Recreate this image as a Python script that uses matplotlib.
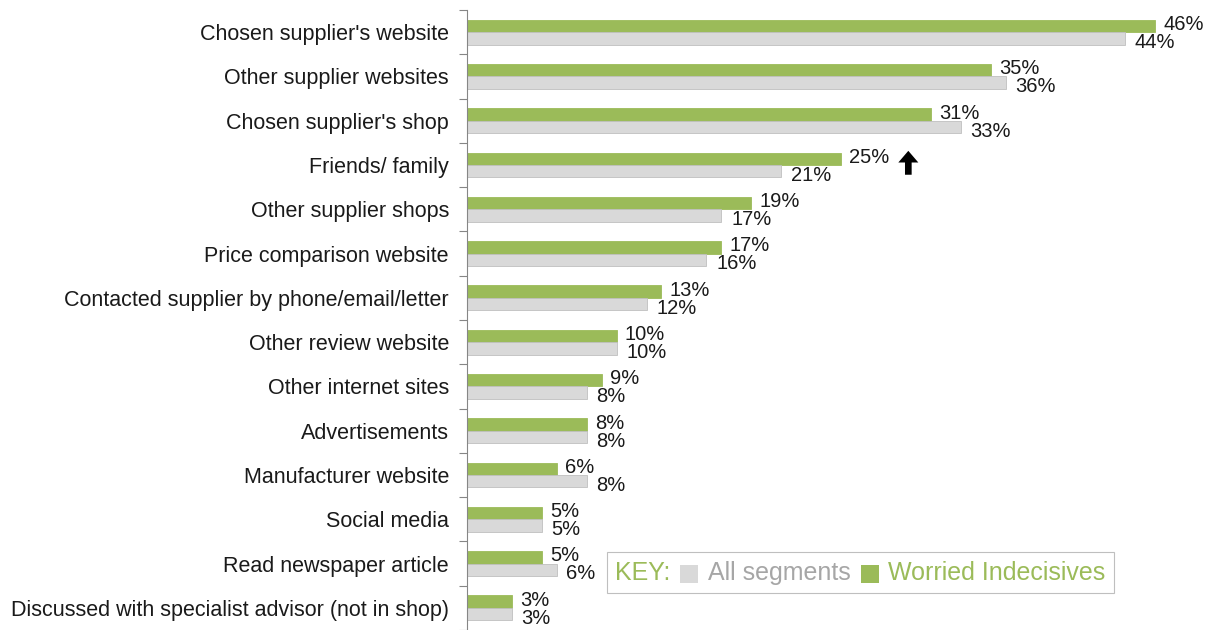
import numpy as np
import matplotlib.pyplot as plt
from matplotlib.offsetbox import TextArea, DrawingArea, HPacker, AnchoredOffsetbox
from matplotlib.patches import Rectangle

# Sources used, % of respondents
categories = [
    "Chosen supplier's website",
    "Other supplier websites",
    "Chosen supplier's shop",
    "Friends/ family",
    "Other supplier shops",
    "Price comparison website",
    "Contacted supplier by phone/email/letter",
    "Other review website",
    "Other internet sites",
    "Advertisements",
    "Manufacturer website",
    "Social media",
    "Read newspaper article",
    "Discussed with specialist advisor (not in shop)",
]
worried = [46, 35, 31, 25, 19, 17, 13, 10, 9, 8, 6, 5, 5, 3]
all_segments = [44, 36, 33, 21, 17, 16, 12, 10, 8, 8, 8, 5, 6, 3]
# significantly higher than all segments
sig_higher = "Friends/ family"

GREEN = "#9BBB59"
GREY = "#D9D9D9"
GREY_TXT = "#A6A6A6"

plt.rcParams['font.family'] = ['Liberation Sans', 'DejaVu Sans']

fig = plt.figure(figsize=(12.14, 6.30), dpi=100)
ax = fig.add_axes([467 / 1214, 0, 748 / 1214, 620 / 630])

n = len(categories)
y = np.arange(n)
h = 0.28

ax.barh(y - h / 2, worried, height=h, color=GREEN, edgecolor=GREEN, linewidth=0.6)
ax.barh(y + h / 2, all_segments, height=h, color=GREY, edgecolor="#BFBFBF", linewidth=0.6)

label_font = dict(fontsize=14.5, color="#1a1a1a")
for i in range(n):
    ax.annotate(f"{worried[i]}%", (worried[i], y[i] - h / 2), xytext=(6, 1),
                textcoords="offset points", va="center", ha="left", **label_font)
    ax.annotate(f"{all_segments[i]}%", (all_segments[i], y[i] + h / 2), xytext=(7, -3),
                textcoords="offset points", va="center", ha="left", **label_font)
    if categories[i] == sig_higher:
        ax.annotate("", xy=(29.5, y[i] - 0.32), xytext=(29.5, y[i] + 0.22),
                    arrowprops=dict(arrowstyle="simple,head_width=0.72,head_length=0.42,tail_width=0.24",
                                    mutation_scale=20, shrinkA=0, shrinkB=0,
                                    color="black", lw=0))

ax.set_xlim(0, 50)
ax.set_ylim(n - 0.5, -0.5)

ax.set_yticks(y)
ax.set_yticklabels(categories, fontsize=15.5, color="#1a1a1a")
ax.tick_params(axis='y', which='major', length=0, pad=13)
ax.set_yticks(np.arange(n + 1) - 0.5, minor=True)
ax.tick_params(axis='y', which='minor', length=6, color="#868686", width=0.8)
ax.set_xticks([])

for side in ["top", "right", "bottom"]:
    ax.spines[side].set_visible(False)
ax.spines["left"].set_color("#868686")
ax.spines["left"].set_linewidth(0.8)

# legend key
def swatch(color):
    da = DrawingArea(13, 13, 0, 0)
    da.add_artist(Rectangle((0, -1), 13, 13, facecolor=color, edgecolor="none"))
    return da

items = [
    TextArea("KEY:", textprops=dict(color=GREEN, fontsize=18)),
    swatch(GREY),
    TextArea("All segments", textprops=dict(color=GREY_TXT, fontsize=18)),
    swatch(GREEN),
    TextArea("Worried Indecisives", textprops=dict(color=GREEN, fontsize=18)),
]
pack = HPacker(children=items, align="center", pad=0, sep=7)
key = AnchoredOffsetbox(loc="lower left", child=pack, pad=0.6, frameon=True,
                        bbox_to_anchor=(607 / 1214, 1 - 593 / 630),
                        bbox_transform=fig.transFigure, borderpad=0)
key.patch.set_edgecolor("#BFBFBF")
key.patch.set_linewidth(0.8)
fig.add_artist(key)

fig.savefig("out.png", dpi=100)
